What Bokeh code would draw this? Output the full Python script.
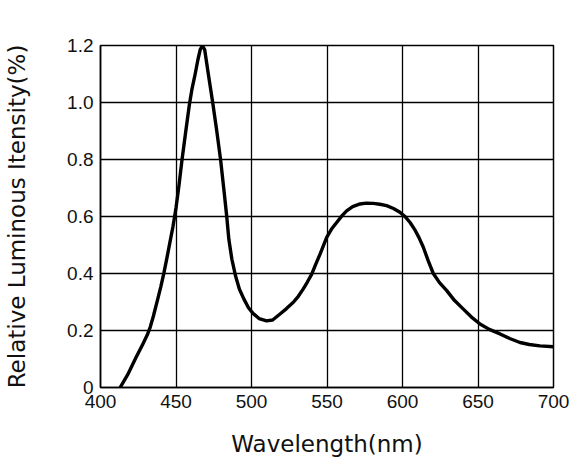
from bokeh.plotting import figure
from bokeh.models import FixedTicker, Range1d
from bokeh.embed import file_html
from bokeh.resources import INLINE

# Data
wavelength = [413, 418, 423.5, 428, 431, 433, 435, 437.6, 440, 442, 444, 446, 448,
              450, 452, 454, 456.5, 458.8, 460.5, 462.7, 464.5, 466, 467.5, 469,
              470, 471.4, 474.3, 477, 479.6, 481.8, 483.6, 485, 487, 489.5, 492, 495,
              498, 501, 505, 510, 514, 518.9, 523, 527.7, 531, 534.3, 537, 539.9,
              542.5, 545.4, 549.8, 553, 556.4, 560, 563, 567, 571.9, 576, 580.7, 585,
              589.5, 594, 598.3, 602, 605, 608, 611, 613.8, 617, 620.4, 624.5, 629.3,
              634.5, 640.3, 645.5, 651.3, 657.5, 664.6, 671, 677.8, 684, 691, 700]
intensity = [0.0, 0.045, 0.105, 0.152, 0.185, 0.213, 0.25, 0.304, 0.355, 0.402, 0.455,
             0.51, 0.565, 0.63, 0.71, 0.8, 0.9, 0.99, 1.045, 1.1, 1.15, 1.185, 1.2, 1.185,
             1.15, 1.1, 1.0, 0.9, 0.796, 0.69, 0.6, 0.52, 0.45, 0.39, 0.345, 0.31,
             0.28, 0.26, 0.242, 0.234, 0.237, 0.258, 0.276, 0.299, 0.32, 0.346, 0.37, 0.398,
             0.432, 0.468, 0.527, 0.556, 0.579, 0.603, 0.62, 0.635, 0.644, 0.647, 0.646, 0.643,
             0.638, 0.628, 0.615, 0.598, 0.579, 0.555, 0.525, 0.492, 0.445, 0.40, 0.368, 0.34,
             0.305, 0.275, 0.248, 0.223, 0.204, 0.188, 0.172, 0.158, 0.151, 0.146, 0.143]

x_ticks = [400, 450, 500, 550, 600, 650, 700]
x_tick_labels = ["400", "450", "500", "550", "600", "650", "700"]
y_ticks = [0, 0.2, 0.4, 0.6, 0.8, 1.0, 1.2]
y_tick_labels = ["0", "0.2", "0.4", "0.6", "0.8", "1.0", "1.2"]

x_title = "Wavelength(nm)"
y_title = "Relative Luminous Itensity(%)"

p = figure(width=574, height=460, output_backend="svg", toolbar_location=None,
           x_range=Range1d(400, 700), y_range=Range1d(0, 1.2),
           min_border_left=100, min_border_top=45, min_border_right=21, min_border_bottom=73)
p.background_fill_color = "white"
p.border_fill_color = "white"
p.outline_line_color = "black"
p.outline_line_width = 1.5

p.line(wavelength, intensity, line_color="black", line_width=3.4, line_join="round")

p.xaxis.ticker = FixedTicker(ticks=x_ticks)
p.yaxis.ticker = FixedTicker(ticks=y_ticks)
p.xaxis.major_label_overrides = {t: l for t, l in zip(x_ticks, x_tick_labels)}
p.yaxis.major_label_overrides = {t: l for t, l in zip(y_ticks, y_tick_labels)}

for ax in (p.xaxis, p.yaxis):
    ax.axis_line_color = "black"
    ax.axis_line_width = 1.5
    ax.major_tick_out = 0
    ax.major_tick_in = 0
    ax.minor_tick_out = 0
    ax.minor_tick_in = 0
    ax.major_label_text_font = "Liberation Sans"
    ax.major_label_text_font_size = "19px"
    ax.major_label_text_color = "#111111"
    ax.axis_label_text_font = "DejaVu Sans"
    ax.axis_label_text_font_size = "23px"
    ax.axis_label_text_font_style = "normal"
    ax.axis_label_text_color = "#111111"

p.xaxis.axis_label = x_title
p.yaxis.axis_label = y_title
p.xaxis.major_label_standoff = 7
p.yaxis.major_label_standoff = 7
p.xaxis.axis_label_standoff = 20
p.yaxis.axis_label_standoff = 34

p.xgrid.ticker = FixedTicker(ticks=x_ticks)
p.ygrid.ticker = FixedTicker(ticks=y_ticks)
p.grid.grid_line_color = "black"
p.grid.grid_line_width = 1.3
p.grid.grid_line_alpha = 1.0

open("out.html", "w").write(file_html(p, INLINE))
